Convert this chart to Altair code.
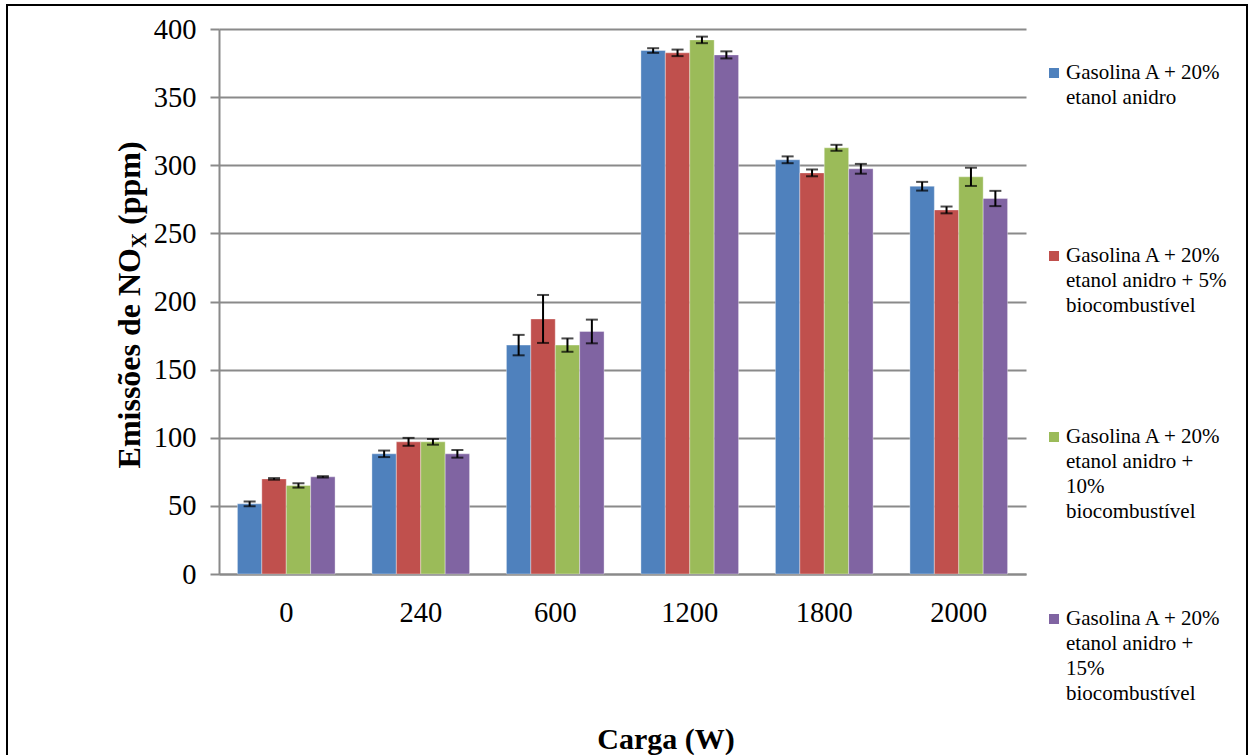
import altair as alt
import pandas as pd

# ---------------- data ----------------
cargas = ["0", "240", "600", "1200", "1800", "2000"]
series = [
    "Gasolina A + 20% etanol anidro",
    "Gasolina A + 20% etanol anidro + 5% biocombustível",
    "Gasolina A + 20% etanol anidro + 10% biocombustível",
    "Gasolina A + 20% etanol anidro + 15% biocombustível",
]
legend_lines = [
    ["Gasolina A + 20%", "etanol anidro"],
    ["Gasolina A + 20%", "etanol anidro + 5%", "biocombustível"],
    ["Gasolina A + 20%", "etanol anidro +", "10%", "biocombustível"],
    ["Gasolina A + 20%", "etanol anidro +", "15%", "biocombustível"],
]
colors = ["#4F81BD", "#C0504D", "#9BBB59", "#8064A2"]

s1 = [51.5, 88.2, 168.0, 384.2, 304.0, 284.6]
s1_err = [1.8, 2.4, 7.5, 1.7, 2.5, 3.2]
s2 = [69.8, 97.0, 187.2, 382.5, 294.4, 267.2]
s2_err = [0.6, 2.9, 17.6, 2.4, 2.5, 2.5]
s3 = [65.0, 97.0, 168.0, 392.0, 312.8, 291.5]
s3_err = [1.6, 2.1, 4.9, 2.4, 2.2, 6.7]
s4 = [71.3, 88.2, 178.0, 381.0, 297.4, 275.6]
s4_err = [0.5, 2.8, 8.7, 2.6, 3.6, 5.6]

y_ticks = [0, 50, 100, 150, 200, 250, 300, 350, 400]

rows = []
for name, vals, errs in zip(series, [s1, s2, s3, s4], [s1_err, s2_err, s3_err, s4_err]):
    for c, v, e in zip(cargas, vals, errs):
        rows.append({"carga": c, "serie": name, "valor": v, "lo": v - e, "hi": v + e})
df = pd.DataFrame(rows)

# ---------------- layout ----------------
W, H = 807, 545
PAD = {"left": 219, "top": 29, "right": 1252 - 219 - W, "bottom": 755 - 29 - H}
SERIF = "Liberation Serif, Times New Roman, serif"
GRAY = "#8a8a8a"

x_enc = alt.X(
    "carga:N",
    sort=cargas,
    scale=alt.Scale(paddingInner=0.274, paddingOuter=0.137),
    axis=alt.Axis(
        title=None, ticks=False, labelAngle=0, labelFont=SERIF, labelFontSize=28.5,
        labelColor="black", labelPadding=24, domainColor=GRAY, domainWidth=2, grid=False,
    ),
)
xoff = alt.XOffset("serie:N", sort=series, scale=alt.Scale(paddingInner=0, paddingOuter=0))
y_scale = alt.Scale(domain=[0, 400], nice=False)
y_axis = alt.Axis(
    title=None, values=y_ticks, labelFont=SERIF, labelFontSize=28.5, labelColor="black",
    labelPadding=14, tickSize=9, tickColor=GRAY, tickWidth=2, domainColor=GRAY,
    domainWidth=2, grid=True, gridColor=GRAY, gridWidth=2,
)

base = alt.Chart(df)

bars = base.mark_bar(stroke="white", strokeOpacity=0.35, strokeWidth=1).encode(
    x=x_enc,
    xOffset=xoff,
    y=alt.Y("valor:Q", scale=y_scale, axis=y_axis),
    color=alt.Color("serie:N", scale=alt.Scale(domain=series, range=colors), legend=None),
)

err_rule = base.mark_rule(color="black", strokeWidth=2).encode(
    x=x_enc, xOffset=xoff, y=alt.Y("lo:Q", scale=y_scale), y2="hi:Q"
)
cap_hi = base.mark_tick(color="black", thickness=2, size=12, orient="horizontal").encode(
    x=x_enc, xOffset=xoff, y=alt.Y("hi:Q", scale=y_scale)
)
cap_lo = base.mark_tick(color="black", thickness=2, size=12, orient="horizontal").encode(
    x=x_enc, xOffset=xoff, y=alt.Y("lo:Q", scale=y_scale)
)

one = alt.Data(values=[{"k": 0}])

# y axis title with subscript
yt1 = alt.Chart(one).mark_text(
    text="Emissões de NO", font=SERIF, fontSize=32, fontWeight="bold", angle=270,
    align="right", baseline="alphabetic", color="black",
).encode(x=alt.value(-79), y=alt.value(219))
yt2 = alt.Chart(one).mark_text(
    text="X", font=SERIF, fontSize=21, fontWeight="bold", angle=270,
    align="left", baseline="alphabetic", color="black",
).encode(x=alt.value(-73), y=alt.value(219))
yt3 = alt.Chart(one).mark_text(
    text="(ppm)", font=SERIF, fontSize=32, fontWeight="bold", angle=270,
    align="left", baseline="alphabetic", color="black",
).encode(x=alt.value(-79), y=alt.value(196))

# x axis title
xt = alt.Chart(one).mark_text(
    text="Carga (W)", font=SERIF, fontSize=30, fontWeight="bold",
    align="center", baseline="alphabetic", color="black",
).encode(x=alt.value(447), y=alt.value(720))

# legend (manual, evenly spaced like the original)
leg_layers = []
leg_y = [44, 227, 408, 590]
for i in range(4):
    leg_layers.append(
        alt.Chart(one).mark_square(size=100, color=colors[i], opacity=1).encode(
            x=alt.value(835), y=alt.value(leg_y[i])
        )
    )
    for j, line in enumerate(legend_lines[i]):
        leg_layers.append(
            alt.Chart(one).mark_text(
                text=line, font=SERIF, fontSize=21, align="left", baseline="middle",
                color="black",
            ).encode(x=alt.value(847), y=alt.value(leg_y[i] + 25 * j))
        )

# outer frame
frame = alt.Chart(one).mark_rect(filled=False, stroke="black", strokeWidth=2).encode(
    x=alt.value(-212), x2=alt.value(1028), y=alt.value(-24), y2=alt.value(760)
)

chart = alt.layer(
    bars, err_rule, cap_hi, cap_lo, yt1, yt2, yt3, xt, *leg_layers, frame
).properties(
    width=W, height=H, autosize=alt.AutoSizeParams(type="none"), padding=PAD,
    background="white",
).configure_view(stroke=None)

chart.save("out.html", embed_options={"renderer": "svg", "actions": False})
